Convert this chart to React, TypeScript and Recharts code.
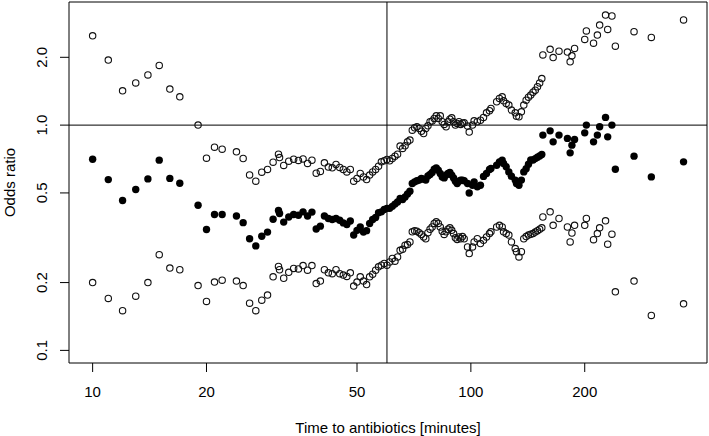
import { ScatterChart, Scatter, XAxis, YAxis, ReferenceLine, ReferenceArea, Label } from "recharts";

// time to antibiotics (minutes) and odds ratio with its 95% interval
const minutes = [
  10, 11, 12, 13, 14, 15, 16, 17, 19, 20, 21, 22,
  24, 25, 26, 27, 28, 29, 30, 31, 31.2, 32,
  33, 34, 35, 36, 37, 38, 39, 40, 41, 42, 43,
  44, 45, 46, 47, 48, 49, 50, 51, 52, 53, 54, 55, 56, 57, 58, 59, 60, 61, 62, 63, 64, 65,
  66, 67, 68, 69, 70, 71, 72, 73, 74, 75, 76, 77, 78, 79, 80, 81, 82, 83, 84, 85, 86, 87, 88, 89, 90, 91, 92, 93, 94, 95, 96,
  98, 99, 101, 102, 104, 106, 108, 110, 112, 113, 117, 119, 121, 122, 124, 126, 128, 131, 132, 134, 136, 138, 140, 142, 144, 146, 148, 150, 152, 154,
  155, 162, 165, 171, 180, 183, 185, 188, 200, 202, 211, 216, 219, 227, 230, 236, 241, 270, 300, 365,
];

const lower = [
  0.2, 0.17, 0.15, 0.174, 0.2, 0.266, 0.232, 0.228, 0.194, 0.165, 0.201, 0.205,
  0.203, 0.194, 0.162, 0.15, 0.167, 0.176, 0.212, 0.236, 0.228, 0.209,
  0.222, 0.231, 0.23, 0.238, 0.227, 0.238, 0.198, 0.203, 0.228, 0.221, 0.219,
  0.228, 0.219, 0.216, 0.213, 0.221, 0.193, 0.201, 0.212, 0.203, 0.196, 0.212, 0.218, 0.227, 0.235, 0.239, 0.243, 0.239, 0.247, 0.256, 0.249, 0.26, 0.278,
  0.281, 0.293, 0.295, 0.303, 0.336, 0.34, 0.338, 0.333, 0.327, 0.319, 0.313, 0.333, 0.345, 0.353, 0.366, 0.372, 0.366, 0.353, 0.338, 0.327, 0.336, 0.345, 0.35, 0.341, 0.33, 0.316, 0.311, 0.319, 0.313, 0.32, 0.313,
  0.288, 0.269, 0.288, 0.303, 0.313, 0.298, 0.308, 0.319, 0.33, 0.336, 0.353, 0.359, 0.353, 0.336, 0.33, 0.325, 0.303, 0.283, 0.274, 0.26, 0.274, 0.313, 0.32, 0.325, 0.328, 0.33, 0.335, 0.34, 0.345, 0.35,
  0.391, 0.412, 0.359, 0.385, 0.353, 0.303, 0.332, 0.359, 0.359, 0.385, 0.31, 0.33, 0.35, 0.376, 0.296, 0.328, 0.182, 0.203, 0.143, 0.161,
];

const estimate = [
  0.706, 0.573, 0.463, 0.518, 0.577, 0.699, 0.58, 0.552, 0.441, 0.344, 0.401, 0.401,
  0.395, 0.369, 0.313, 0.291, 0.321, 0.335, 0.382, 0.418, 0.405, 0.371,
  0.391, 0.401, 0.398, 0.412, 0.395, 0.411, 0.346, 0.356, 0.395, 0.385, 0.381,
  0.385, 0.378, 0.368, 0.362, 0.375, 0.325, 0.341, 0.353, 0.335, 0.34, 0.366, 0.381, 0.389, 0.408, 0.412, 0.422, 0.427, 0.427, 0.436, 0.446, 0.456, 0.472,
  0.467, 0.48, 0.495, 0.509, 0.551, 0.56, 0.566, 0.57, 0.58, 0.575, 0.57, 0.595, 0.604, 0.616, 0.637, 0.646, 0.631, 0.61, 0.589, 0.583, 0.6, 0.61, 0.616, 0.6, 0.583, 0.564, 0.551, 0.564, 0.57, 0.57, 0.566,
  0.551, 0.5, 0.541, 0.56, 0.532, 0.541, 0.592, 0.61, 0.636, 0.642, 0.664, 0.687, 0.699, 0.676, 0.653, 0.62, 0.593, 0.57, 0.551, 0.541, 0.57, 0.62, 0.64, 0.67, 0.7, 0.7, 0.71, 0.72, 0.73, 0.74,
  0.903, 0.943, 0.843, 0.903, 0.873, 0.753, 0.815, 0.864, 0.924, 1.0, 0.843, 0.903, 0.983, 1.082, 0.887, 1.0, 0.637, 0.728, 0.589, 0.687,
];

const upper = [
  2.49, 1.945, 1.42, 1.54, 1.67, 1.84, 1.445, 1.336, 1.0, 0.713, 0.798, 0.782,
  0.761, 0.711, 0.601, 0.564, 0.618, 0.636, 0.685, 0.743, 0.718, 0.662,
  0.692, 0.706, 0.697, 0.708, 0.676, 0.699, 0.612, 0.623, 0.68, 0.651, 0.646,
  0.669, 0.649, 0.636, 0.62, 0.636, 0.564, 0.58, 0.61, 0.589, 0.573, 0.6, 0.62, 0.636, 0.657, 0.687, 0.694, 0.704, 0.694, 0.711, 0.728, 0.743, 0.807,
  0.788, 0.809, 0.843, 0.858, 0.95, 0.973, 0.983, 0.967, 0.94, 0.918, 0.967, 0.993, 1.035, 1.042, 1.071, 1.1, 1.071, 1.1, 1.035, 1.007, 0.983, 1.035, 1.063, 1.077, 1.035, 1.0, 1.017, 1.035, 1.007, 1.02, 1.024,
  0.99, 0.931, 1.0, 1.045, 1.035, 1.052, 1.082, 1.134, 1.158, 1.186, 1.27, 1.314, 1.336, 1.282, 1.248, 1.227, 1.166, 1.134, 1.096, 1.089, 1.146, 1.227, 1.29, 1.33, 1.36, 1.4, 1.43, 1.48, 1.54, 1.61,
  2.05, 2.17, 1.995, 2.13, 2.11, 1.91, 2.03, 2.19, 2.4, 2.62, 2.31, 2.51, 2.78, 3.08, 2.66, 3.05, 2.24, 2.6, 2.45, 2.93,
];

const xTicks = [10, 20, 50, 100, 200];
const yTicks = [0.1, 0.2, 0.5, 1, 2];
const xDomain: [number, number] = [8.66, 421];
const yDomain: [number, number] = [0.0879, 3.52];
const cutoff = 60;

const toPoints = (vals: number[]) => minutes.map((m, i) => ({ x: m, y: vals[i] }));

const OpenDot = (p: any) => <circle cx={p.cx} cy={p.cy} r={3.2} fill="none" stroke="#111" strokeWidth={1.1} />;
const SolidDot = (p: any) => <circle cx={p.cx} cy={p.cy} r={3.7} fill="#000" />;

const YTick = ({ x, y, payload }: any) => (
  <text transform={`translate(${x},${y}) rotate(-90)`} textAnchor="middle" fontSize={15} fill="#000">
    {payload.value.toFixed(1)}
  </text>
);

const YTitle = (props: any) => {
  const vb = props.viewBox;
  return (
    <text transform={`translate(${vb.x + 15},${vb.y + vb.height / 2}) rotate(-90)`} textAnchor="middle" fontSize={15} fill="#000">
      Odds ratio
    </text>
  );
};

export default function App() {
  return (
    <div style={{ position: "absolute", left: 0, top: 0, width: 709, height: 436, background: "#fff", fontFamily: "'Liberation Sans', Arial, sans-serif" }}>
      <ScatterChart width={709} height={436} margin={{ top: 2, right: 2, bottom: 0, left: 0 }}>
        <XAxis
          type="number"
          dataKey="x"
          scale="log"
          domain={xDomain}
          allowDataOverflow
          ticks={xTicks}
          height={73}
          axisLine={false}
          tickSize={9}
          tickMargin={14}
          stroke="#000"
          tickLine={{ stroke: "#000" }}
          tick={{ fontSize: 15, fill: "#000" }}
        >
          <Label value="Time to antibiotics [minutes]" position="insideBottom" offset={3} fontSize={15} fill="#000" />
        </XAxis>
        <YAxis
          type="number"
          dataKey="y"
          scale="log"
          domain={yDomain}
          allowDataOverflow
          ticks={yTicks}
          width={69}
          axisLine={false}
          tickSize={9}
          tickMargin={13}
          stroke="#000"
          tickLine={{ stroke: "#000" }}
          tick={<YTick />}
          label={{ content: <YTitle /> }}
        />
        <ReferenceArea x1={xDomain[0]} x2={xDomain[1]} y1={yDomain[0]} y2={yDomain[1]} fill="none" fillOpacity={0} stroke="#000" strokeWidth={1} ifOverflow="visible" />
        <Scatter data={toPoints(lower)} shape={OpenDot} isAnimationActive={false} />
        <Scatter data={toPoints(estimate)} shape={SolidDot} isAnimationActive={false} />
        <Scatter data={toPoints(upper)} shape={OpenDot} isAnimationActive={false} />
        <ReferenceLine x={cutoff} stroke="#000" strokeWidth={1} />
        <ReferenceLine y={1} stroke="#000" strokeWidth={1} />
      </ScatterChart>
    </div>
  );
}
